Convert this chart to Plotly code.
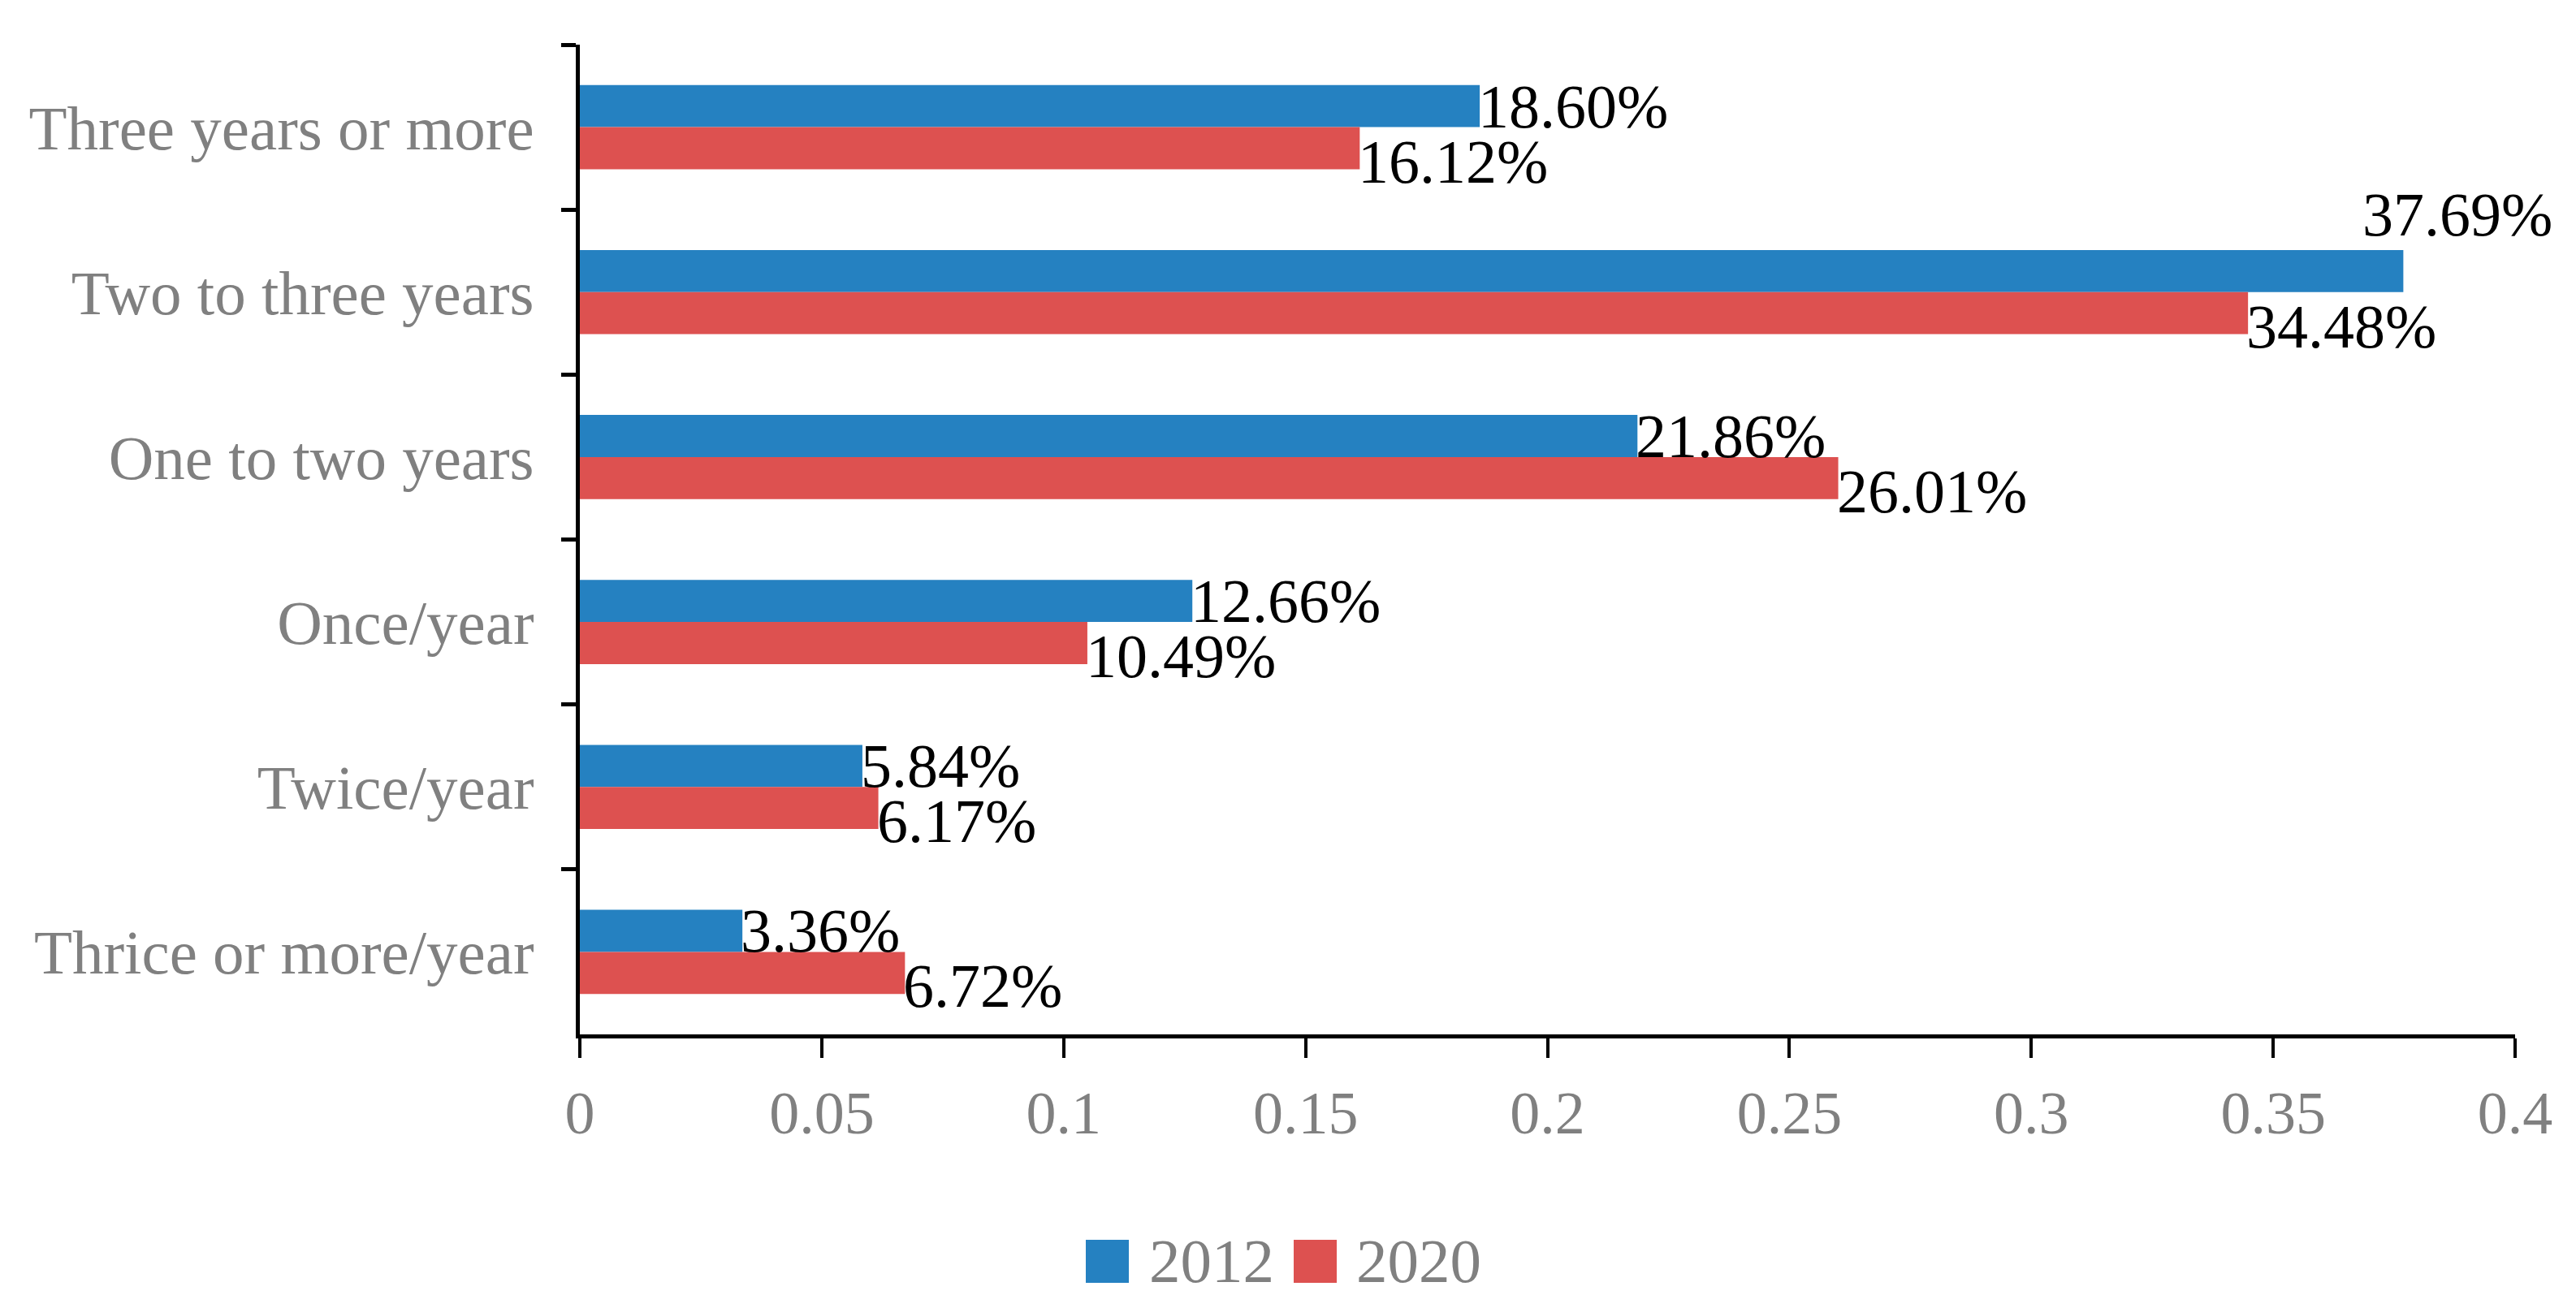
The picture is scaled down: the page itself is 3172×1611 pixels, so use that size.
import plotly.graph_objects as go

categories = ["Three years or more", "Two to three years", "One to two years",
              "Once/year", "Twice/year", "Thrice or more/year"]
values_2012 = [0.1860, 0.3769, 0.2186, 0.1266, 0.0584, 0.0336]
values_2020 = [0.1612, 0.3448, 0.2601, 0.1049, 0.0617, 0.0672]
series_names = ["2012", "2020"]
x_ticks = [0, 0.05, 0.1, 0.15, 0.2, 0.25, 0.3, 0.35, 0.4]
x_tick_labels = ["0", "0.05", "0.1", "0.15", "0.2", "0.25", "0.3", "0.35", "0.4"]

BLUE = "#2581C1"
RED = "#DD5150"
GRAY = "#808080"
FONT = "Liberation Serif, Times New Roman, serif"
FS_TICK = 74
FS_CAT = 77
FS_LBL = 76
FS_LEG = 77

W, H = 3172, 1611
ML, MR, MT, MB = 706, 83, 47, 345
XMAX = 0.4

fig = go.Figure()
fig.add_trace(go.Bar(y=categories, x=values_2012, orientation="h", name=series_names[0],
                     marker=dict(color=BLUE, line=dict(width=0)), showlegend=False))
fig.add_trace(go.Bar(y=categories, x=values_2020, orientation="h", name=series_names[1],
                     marker=dict(color=RED, line=dict(width=0)), showlegend=False))

plot_w = W - ML - MR
plot_h = H - MT - MB
px_per_unit = plot_w / XMAX
annotations = []
for vals, base_shift in ((values_2012, 26), (values_2020, -42)):
    for cat, v in zip(categories, vals):
        txt = f"{v*100:.2f}%"
        est_w = FS_LBL * 3.1
        xshift, yshift = -4, base_shift
        if v * px_per_unit + est_w > plot_w + 40:
            xshift, yshift = -52, base_shift + 70
        annotations.append(dict(x=v, y=cat, xref="x", yref="y", text=txt, showarrow=False,
                                xanchor="left", yanchor="middle", xshift=xshift, yshift=yshift,
                                font=dict(family=FONT, size=FS_LBL, color="black")))

# custom legend (large square swatches)
def px_to_paper_x(px):
    return (px - ML) / plot_w
def px_to_paper_y(py):
    return (H - MB - py) / plot_h

shapes = []
legend_items = [(series_names[0], BLUE, 1329, 1405), (series_names[1], RED, 1585, 1660)]
for name, col, sx, tx in legend_items:
    shapes.append(dict(type="rect", xref="paper", yref="paper",
                       x0=px_to_paper_x(sx), x1=px_to_paper_x(sx + 53),
                       y0=px_to_paper_y(1572), y1=px_to_paper_y(1519),
                       fillcolor=col, line=dict(width=0)))
    annotations.append(dict(x=px_to_paper_x(tx), y=px_to_paper_y(1545), xref="paper", yref="paper",
                            text=name, showarrow=False, xanchor="left", yanchor="middle",
                            font=dict(family=FONT, size=FS_LEG, color=GRAY)))

fig.update_layout(
    width=W, height=H,
    margin=dict(l=ML, r=MR, t=MT, b=MB, autoexpand=False),
    paper_bgcolor="white", plot_bgcolor="white",
    barmode="group", bargap=0.49, bargroupgap=0,
    font=dict(family=FONT, size=FS_TICK, color=GRAY),
    showlegend=False,
    annotations=annotations, shapes=shapes,
)
fig.update_xaxes(range=[0, XMAX], tickvals=x_ticks, ticktext=x_tick_labels,
                 showgrid=False, zeroline=False, showline=True, linecolor="black", linewidth=5,
                 ticks="outside", ticklen=24, tickwidth=4, tickcolor="black",
                 tickfont=dict(family=FONT, size=FS_TICK, color=GRAY), ticklabelstandoff=4)
fig.update_yaxes(type="category", categoryorder="array", categoryarray=categories,
                 autorange="reversed", showgrid=False, zeroline=False,
                 showline=True, linecolor="black", linewidth=5,
                 ticks="outside", tickson="boundaries", ticklen=18, tickwidth=5, tickcolor="black",
                 tickfont=dict(family=FONT, size=FS_CAT, color=GRAY), ticklabelstandoff=36)

fig.write_html("out.html")
